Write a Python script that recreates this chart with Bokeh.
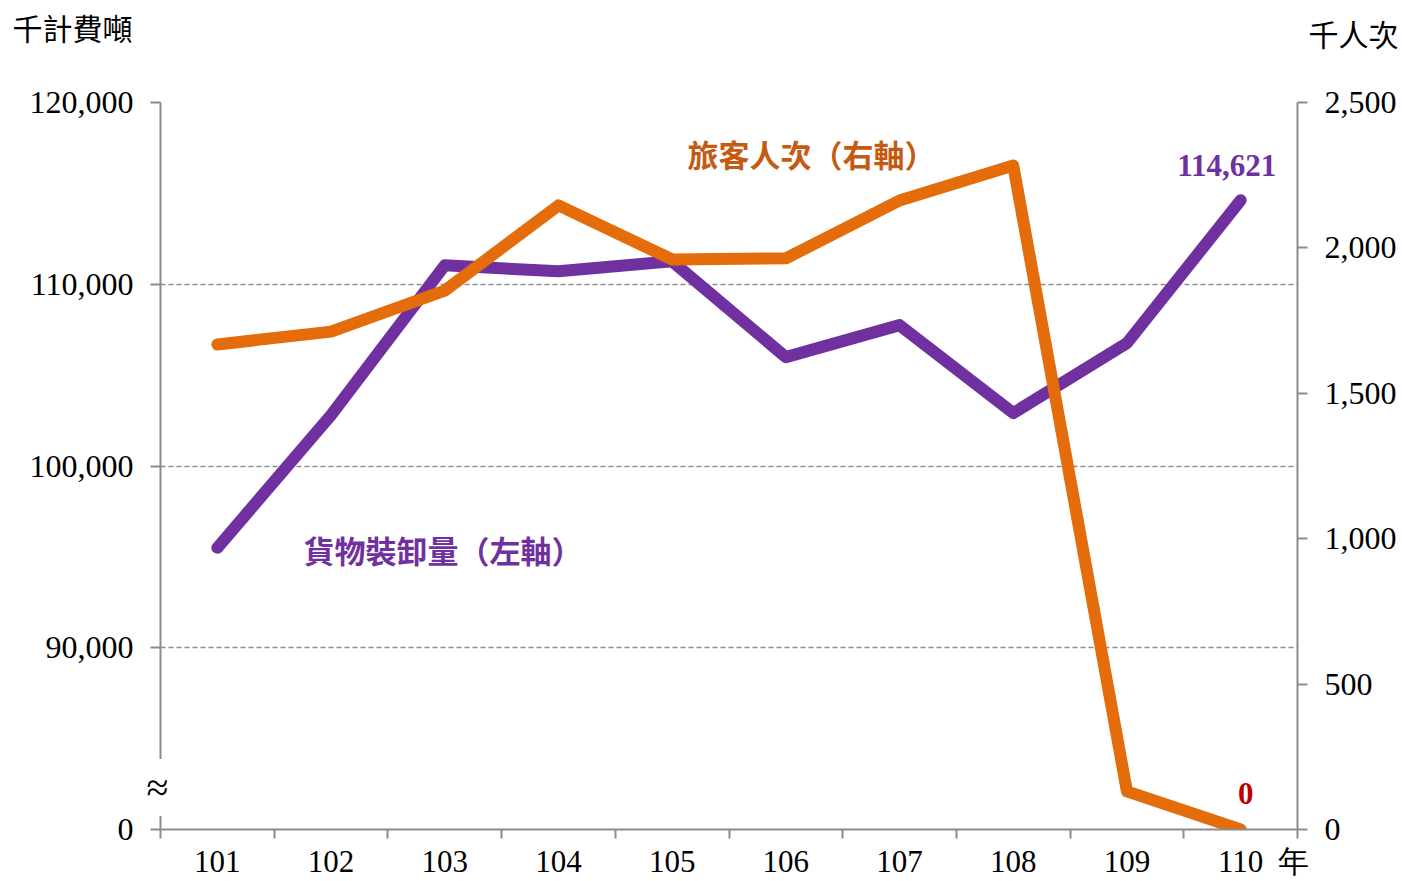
from bokeh.plotting import figure
from bokeh.models import (Range1d, LinearAxis, FixedTicker, Label, NumeralTickFormatter)
from bokeh.embed import file_html
from bokeh.resources import INLINE

# ---- data ----
years = ["101", "102", "103", "104", "105", "106", "107", "108", "109", "110"]
cargo = [95500, 102800, 111040, 110710, 111260, 105990, 107750, 102910, 106760, 114621]   # 千計費噸 (left)
passengers = [1668, 1712, 1853, 2146, 1960, 1964, 2163, 2283, 131, 0]                     # 千人次 (right)
left_ticks = [80000, 90000, 100000, 110000, 120000]
right_ticks = [0, 500, 1000, 1500, 2000, 2500]
year_unit = "年"

x = [i + 0.5 for i in range(len(years))]

PURPLE = "#7030A0"
ORANGE = "#E46C0A"
ORANGE_TXT = "#C55A11"
GRAY = "#8C8C8C"
SERIF = "Liberation Serif"
CJK = "Noto Sans CJK TC"

p = figure(width=1402, height=881, output_backend="svg", toolbar_location=None,
           x_range=Range1d(0, len(years)), y_range=Range1d(80000, 120000),
           min_border_left=160, min_border_right=105, min_border_top=102, min_border_bottom=52,
           outline_line_color=None, background_fill_color="white", border_fill_color="white")

# x axis: labels at category centres, ticks between categories (minor)
unit_pos = len(years) - 0.035
xa = p.xaxis[0]
xa.ticker = FixedTicker(ticks=x + [unit_pos], minor_ticks=list(range(len(years) + 1)))
overrides = {xi: y for xi, y in zip(x, years)}
overrides[unit_pos] = year_unit
xa.major_label_overrides = overrides
xa.axis_line_color = GRAY
xa.axis_line_width = 2
xa.major_tick_line_color = None
xa.major_tick_out = 0
xa.major_tick_in = 0
xa.minor_tick_line_color = GRAY
xa.minor_tick_line_width = 2
xa.minor_tick_out = 9
xa.minor_tick_in = 0
xa.major_label_standoff = 5
xa.major_label_text_font = SERIF
xa.major_label_text_font_size = "31px"
xa.major_label_text_color = "black"
p.xgrid.visible = False

# left axis
ya = p.yaxis[0]
ya.ticker = FixedTicker(ticks=left_ticks, minor_ticks=[])
ya.formatter = NumeralTickFormatter(format="0,0")
ya.major_label_overrides = {80000: "0"}
ya.axis_line_color = GRAY
ya.axis_line_width = 2
ya.major_tick_line_color = GRAY
ya.major_tick_line_width = 2
ya.major_tick_out = 10
ya.major_tick_in = 0
ya.minor_tick_line_color = None
ya.major_label_standoff = 17
ya.major_label_text_font = SERIF
ya.major_label_text_font_size = "32px"
ya.major_label_text_color = "black"

# right axis
p.extra_y_ranges = {"right": Range1d(0, 2500)}
ra = LinearAxis(y_range_name="right", ticker=FixedTicker(ticks=right_ticks, minor_ticks=[]),
                formatter=NumeralTickFormatter(format="0,0"))
ra.axis_line_color = GRAY
ra.axis_line_width = 2
ra.major_tick_line_color = GRAY
ra.major_tick_line_width = 2
ra.major_tick_out = 10
ra.major_tick_in = 0
ra.minor_tick_line_color = None
ra.major_label_standoff = 17
ra.major_label_text_font = SERIF
ra.major_label_text_font_size = "32px"
ra.major_label_text_color = "black"
p.add_layout(ra, "right")

# grid
p.ygrid.ticker = FixedTicker(ticks=left_ticks[1:], minor_ticks=[])
p.ygrid.grid_line_color = GRAY
p.ygrid.grid_line_width = 1.5
p.ygrid.grid_line_dash = "5 3"

# lines
p.line(x, cargo, line_color=PURPLE, line_width=12, line_cap="round", line_join="round")
p.line(x, passengers, y_range_name="right", line_color=ORANGE, line_width=12,
       line_cap="round", line_join="round")

# texts outside the frame go into side panels so that they are not clipped
# axis break mark (narrow, in the left panel)
p.add_layout(Label(x=-0.026, y=82311, text="≈", text_align="center", text_baseline="middle",
                   text_font=SERIF, text_font_size="40px", text_color="black",
                   background_fill_color="white", padding=dict(x=1, y=6)), "left")
# unit titles
p.add_layout(Label(x=-1.302, y=124130, text="千計費噸", text_align="left", text_baseline="middle",
                   text_font=CJK, text_font_size="30px", text_color="black"), "above")
p.add_layout(Label(x=10.097, y=123850, text="千人次", text_align="left", text_baseline="middle",
                   text_font=CJK, text_font_size="30px", text_color="black"), "above")

# series labels
p.add_layout(Label(x=1.258, y=95400, text="貨物裝卸量（左軸）", text_align="left",
                   text_baseline="middle", text_font=CJK, text_font_size="31px",
                   text_font_style="bold", text_color=PURPLE))
p.add_layout(Label(x=4.635, y=117200, text="旅客人次（右軸）", text_align="left",
                   text_baseline="middle", text_font=CJK, text_font_size="31px",
                   text_font_style="bold", text_color=ORANGE_TXT))

# value labels
p.add_layout(Label(x=x[-1], y=cargo[-1], x_offset=-14, y_offset=35, text=f"{cargo[-1]:,}",
                   text_align="center", text_baseline="middle", text_font=SERIF,
                   text_font_size="31px", text_font_style="bold", text_color=PURPLE))
p.add_layout(Label(x=x[-1], y=passengers[-1], y_range_name="right", x_offset=5, y_offset=36,
                   text=str(passengers[-1]), text_align="center", text_baseline="middle",
                   text_font=SERIF, text_font_size="31px", text_font_style="bold",
                   text_color="#C00000"))

open("out.html", "w").write(file_html(p, INLINE))
